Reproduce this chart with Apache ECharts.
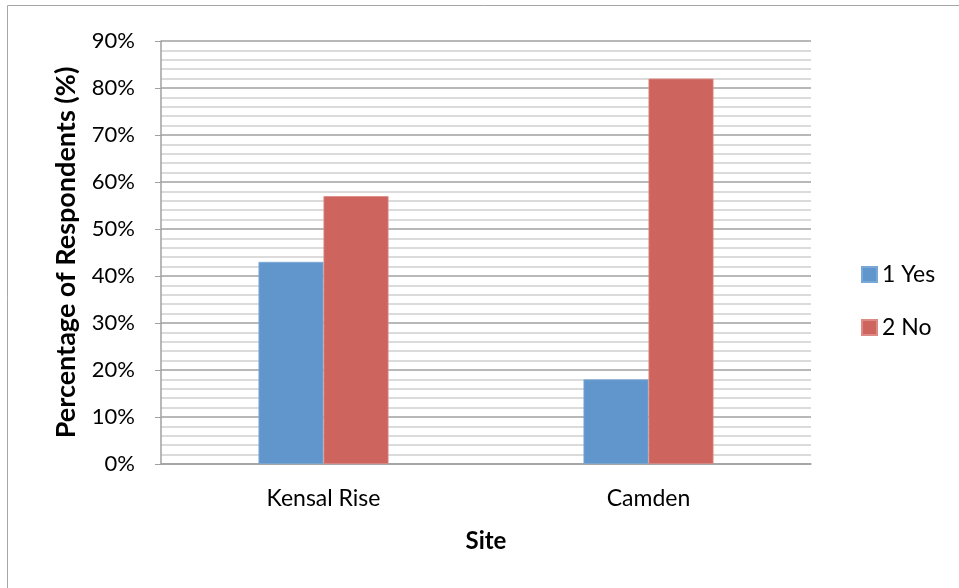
<!DOCTYPE html>
<html>
<head>
<meta charset="utf-8">
<script src="https://cdn.jsdelivr.net/npm/echarts@6/dist/echarts.min.js"></script>
<style>
  html, body { margin: 0; padding: 0; background: #fff; }
  #chart { width: 959px; height: 588px; }
</style>
</head>
<body>
<div id="chart"></div>
<script>
// Survey responses by site
const sites = ['Kensal Rise', 'Camden'];
const yesValues = [43, 18];
const noValues = [57, 82];
const seriesNames = ['1 Yes', '2 No'];

const fontFamily = 'Lato, "Open Sans", "Noto Sans", sans-serif';

const chart = echarts.init(document.getElementById('chart'), null, { renderer: 'canvas' });

chart.setOption({
  backgroundColor: '#ffffff',
  animation: false,
  graphic: [{
    type: 'rect',
    shape: { x: 7.5, y: 5.5, width: 960, height: 600 },
    style: { fill: 'none', stroke: '#a6a6a6', lineWidth: 1 },
    silent: true,
    z: -1
  }],
  grid: { left: 161, right: 148, top: 41, bottom: 124, containLabel: false },
  legend: {
    orient: 'vertical',
    left: 861,
    top: 263,
    padding: 0,
    itemWidth: 15,
    itemHeight: 15,
    itemGap: 30,
    icon: 'rect',
    textStyle: { fontFamily, fontSize: 23, color: '#000' },
    data: seriesNames
  },
  xAxis: {
    type: 'category',
    data: sites,
    name: 'Site',
    nameLocation: 'middle',
    nameGap: 65,
    nameTextStyle: { fontFamily, fontSize: 24, fontWeight: 'bold', color: '#000' },
    axisLine: { show: true, lineStyle: { color: '#a0a0a0', width: 1.5 } },
    axisTick: { show: false },
    axisLabel: { fontFamily, fontSize: 23, color: '#000', margin: 23 }
  },
  yAxis: {
    type: 'value',
    min: 0,
    max: 90,
    interval: 10,
    name: 'Percentage of Respondents (%)',
    nameLocation: 'middle',
    nameGap: 81,
    nameTextStyle: { fontFamily, fontSize: 27, fontWeight: 'bold', color: '#000' },
    axisLine: { show: true, lineStyle: { color: '#a0a0a0', width: 1.5 } },
    axisTick: { show: true, length: 6, lineStyle: { color: '#a0a0a0' } },
    axisLabel: { fontFamily, fontSize: 22, color: '#000', margin: 26, formatter: '{value}%' },
    splitLine: { show: true, lineStyle: { color: '#a0a0a0', width: 1.5 } },
    minorTick: { show: false, splitNumber: 5 },
    minorSplitLine: { show: true, lineStyle: { color: '#cfcfcf', width: 1.5 } }
  },
  series: [
    {
      name: seriesNames[0],
      type: 'bar',
      data: yesValues,
      barWidth: '20%',
      barGap: '0%',
      itemStyle: { color: '#6096cb', borderColor: '#7aa8d6', borderWidth: 0.8 }
    },
    {
      name: seriesNames[1],
      type: 'bar',
      data: noValues,
      barWidth: '20%',
      barGap: '0%',
      itemStyle: { color: '#cd645d', borderColor: '#dd8a85', borderWidth: 0.8 }
    }
  ]
});
</script>
</body>
</html>
